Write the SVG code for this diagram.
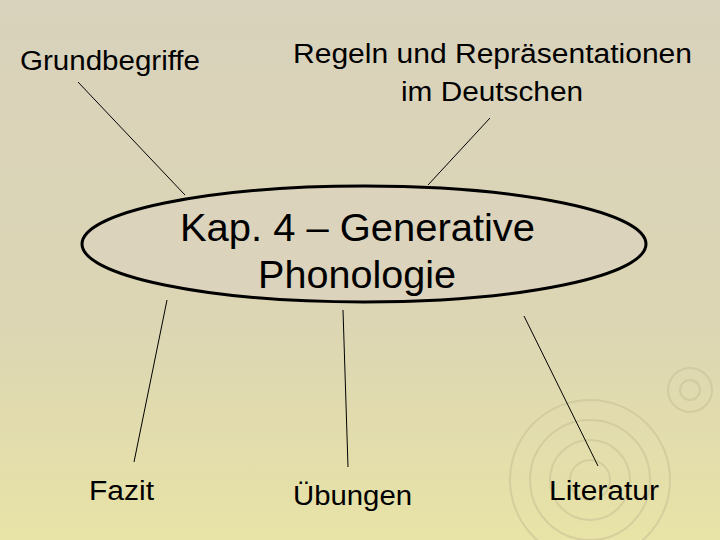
<svg xmlns="http://www.w3.org/2000/svg" width="720" height="540" viewBox="0 0 720 540">
<defs>
<linearGradient id="bg" x1="0" y1="0" x2="0" y2="1">
<stop offset="0" stop-color="#d9d2bc"/>
<stop offset="0.6" stop-color="#dcd6b4"/>
<stop offset="1" stop-color="#e8e3a6"/>
</linearGradient>
<style>
.t{font-family:"Liberation Sans",Arial,sans-serif;fill:#000}
.l{stroke:#000;stroke-width:1}
.c{fill:none;stroke:#c9c296;stroke-width:2;opacity:0.6}
</style>
</defs>
<rect width="720" height="540" fill="url(#bg)"/>
<g id="decor">
<circle class="c" cx="590" cy="480" r="20"/><circle class="c" cx="590" cy="480" r="40"/><circle class="c" cx="590" cy="480" r="60"/><circle class="c" cx="590" cy="480" r="80"/>
<circle class="c" cx="690" cy="390" r="10"/><circle class="c" cx="690" cy="390" r="22"/>
</g>
<g id="connectors">
<line class="l" x1="78" y1="82" x2="185" y2="195"/>
<line class="l" x1="490" y1="118" x2="428" y2="185"/>
<line class="l" x1="167" y1="300" x2="134" y2="462"/>
<line class="l" x1="343" y1="310" x2="348" y2="467"/>
<line class="l" x1="524" y1="316" x2="598" y2="466"/>
</g>
<g id="center">
<ellipse cx="364" cy="244" rx="282" ry="58" fill="#dbd3bb" stroke="#000" stroke-width="3"/>
<text class="t" x="180" y="241" font-size="38" textLength="355" lengthAdjust="spacingAndGlyphs">Kap. 4 – Generative</text>
<text class="t" x="258" y="288" font-size="38" textLength="198" lengthAdjust="spacingAndGlyphs">Phonologie</text>
</g>
<g id="grundbegriffe"><text class="t" x="20" y="70" font-size="27" textLength="180" lengthAdjust="spacingAndGlyphs">Grundbegriffe</text></g>
<g id="regeln"><text class="t" x="293" y="63" font-size="27" textLength="399" lengthAdjust="spacingAndGlyphs">Regeln und Repräsentationen</text>
<text class="t" x="401" y="101" font-size="27" textLength="182" lengthAdjust="spacingAndGlyphs">im Deutschen</text></g>
<g id="fazit"><text class="t" x="89" y="500" font-size="27" textLength="65" lengthAdjust="spacingAndGlyphs">Fazit</text></g>
<g id="uebungen"><text class="t" x="293" y="505" font-size="27" textLength="119" lengthAdjust="spacingAndGlyphs">Übungen</text></g>
<g id="literatur"><text class="t" x="549" y="500" font-size="27" textLength="110" lengthAdjust="spacingAndGlyphs">Literatur</text></g>
</svg>
